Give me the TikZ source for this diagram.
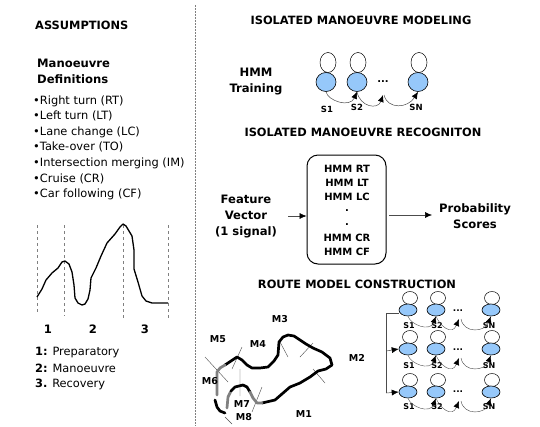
\documentclass[tikz,border=0pt]{standalone}
\usepackage{fontspec}
\setmainfont{DejaVu Sans}
\usetikzlibrary{arrows.meta,shapes.geometric}
\definecolor{stfill}{RGB}{150,200,250}
\tikzset{x=1pt,y=-1pt,
 head/.style={font=\bfseries\fontsize{11.4}{12}\selectfont,inner sep=0pt},
 lab/.style={font=\bfseries\fontsize{11.6}{16}\selectfont,inner sep=0pt,align=center},
 small/.style={font=\bfseries\fontsize{8.5}{9}\selectfont,inner sep=0pt},
 msmall/.style={font=\bfseries\fontsize{9.5}{9}\selectfont,inner sep=0pt},
 tiny/.style={font=\bfseries\fontsize{8}{8}\selectfont,inner sep=0pt},
 item/.style={font=\fontsize{11.4}{11}\selectfont,inner sep=0pt,anchor=west},
 hmm/.style={font=\bfseries\fontsize{10}{10}\selectfont,inner sep=0pt},
 state/.style={ellipse,draw=black,fill=stfill,line width=.6pt,inner sep=0pt},
 loopn/.style={ellipse,draw=black,line width=.5pt,inner sep=0pt,fill=white},
 arr/.style={-{Latex[length=7pt,width=6pt,black]},line width=.5pt,black!70},
 tick/.style={line width=.4pt,black!70},
 guide/.style={dashed,gray,line width=.6pt},
 road/.style={line width=2.7pt,line cap=round,line join=round},
 graypart/.style={road,gray}}
\begin{document}
\begin{tikzpicture}
\useasboundingbox (0,0) rectangle (540,426);
\fill[white] (0,0) rectangle (540,426);
\coordinate (sepA) at (195.5,5); \coordinate (sepB) at (195.5,426);
\draw[dash pattern=on 1.5pt off 1.5pt,gray,line width=.6pt] (sepA) -- (sepB);
\node[head,anchor=west] (assume) at (35,25) {ASSUMPTIONS};
\node[lab,align=left,anchor=west] (defs) at (37,71) {Manoeuvre\\Definitions};
\node[item] (i1) at (33,101) {•Right turn (RT)};
\node[item] (i2) at (33,116) {•Left turn (LT)};
\node[item] (i3) at (33,132) {•Lane change (LC)};
\node[item] (i4) at (33,147) {•Take-over (TO)};
\node[item] (i5) at (33,163) {•Intersection merging (IM)};
\node[item] (i6) at (33,179) {•Cruise (CR)};
\node[item] (i7) at (33,194) {•Car following (CF)};
% signal
\draw[guide] (37,225)--(37,314);
\draw[guide] (64,225)--(64,316);
\draw[guide] (123,225)--(123,318);
\draw[guide] (168,225)--(168,318);
\draw[line width=1.3pt,line join=round] (37,297)--(42,289)--(46,280)--(52,273)--(58,268)--(62,262)--(65,261)--(69,264)--(72,272)--(74,285)--(75,298)--(78,303)--(82,305)--(85,304)--(88,299)--(90,290)--(91,278)--(96,268)--(101,256)--(107,243)--(115,234)--(120,227)--(123,224)--(126,226)--(132,236)--(134,250)--(134,269)--(138,282)--(142,296)--(146,301)--(152,303)--(168,303);
\node[lab] (n1) at (48,329) {1};
\node[lab] (n2) at (93,329) {2};
\node[lab] (n3) at (145,329) {3};
\node[item] (l1) at (35,353) {\textbf{1:} Preparatory};
\node[item] (l2) at (35,368) {\textbf{2:} Manoeuvre};
\node[item] (l3) at (35,384) {\textbf{3.} Recovery};
% top right
\node[head] (t1) at (361,20) {ISOLATED MANOEUVRE MODELING};
\node[lab] (train) at (256,81.5) {HMM\\Training};
\foreach \n/\xl/\xs in {a/328/326,b/358/357,c/419/418}{
  \node[loopn,minimum width=16pt,minimum height=20pt] (\n l) at (\xl,62.5) {};
  \node[state,minimum width=20pt,minimum height=19pt] (\n s) at (\xs,82) {};
}
\node[small] (s1) at (327,109) {S1};
\node[small] (s2) at (357,107) {S2};
\node[small] (sn) at (416,107) {SN};
\node[font=\bfseries\fontsize{10}{9}\selectfont,inner sep=0pt] (dots) at (383,82) {...};
\draw[arr] (as.south) .. controls (328,101) and (350,108) .. (bs.south);
\draw[arr] (bs.south) .. controls (360,107) and (378,110) .. (383,95);
\draw[arr] (384,95) .. controls (388,110) and (408,108) .. (cs.south);
\node[head] (t2) at (363,132) {ISOLATED MANOEUVRE RECOGNITON};
\node[draw=black,line width=1pt,rounded corners=11pt,minimum width=79pt,minimum height=109pt,inner sep=0pt] (box) at (346.5,209.5) {};
\foreach \y/\t in {169/HMM RT,183/HMM LT,197/HMM LC,211/.,225/.,238/HMM CR,252/HMM CF}{
  \node[hmm] at (347,\y) {\t};
}
\node[lab] (fv) at (246,217) {Feature\\Vector\\(1 signal)};
\node[lab] (ps) at (475,216) {Probability\\Scores};
\coordinate (fvend) at (288,216);
\coordinate (boxout) at (389,215);
\coordinate (psin) at (432,215);
\draw[arr] (fvend) -- (box.west |- fvend);
\draw[arr] (boxout) -- (psin);
\node[head] (t3) at (357,284) {ROUTE MODEL CONSTRUCTION};
% route
\draw[tick] (313,343)--(300,357) (280,342)--(288,357) (313,369)--(325,383)
 (242,347)--(232,369) (205,357)--(228,382)
 (240,369)--(240,396) (262,387)--(252,412) (225,417)--(232,424);
\draw[road] (262,403)--(275,400)--(290,387)--(300,383)--(310,377)--(318,371)--(326,369)--(332,365)--(330,358)--(322,352)--(313,348)--(306,344)--(300,340)--(294,336)--(288,335)--(283,337)--(279,342)--(278,355)--(274,361)--(268,367)--(260,368)--(252,368)--(247,365)--(242,360)--(237,357)--(231,361)--(225,365);
\draw[graypart] (225,365)--(220,368)--(217,372)--(217,395);
\draw[road] (215,400)--(217,407)--(220,411)--(225,413);
\draw[graypart] (227,408)--(228,397)--(231,391);
\draw[road] (231,391)--(235,387)--(243,385)--(247,387)--(250,392);
\draw[graypart] (250,392)--(253,398)--(257,403)--(262,403);
\node[msmall] (m1) at (304,414) {M1};
\node[msmall] (m2) at (357,358) {M2};
\node[msmall] (m3) at (280,319) {M3};
\node[msmall] (m4) at (258,344) {M4};
\node[msmall] (m5) at (218,339) {M5};
\node[msmall] (m6) at (210,381) {M6};
\node[msmall] (m7) at (242,404) {M7};
\node[msmall] (m8) at (244,417) {M8};
% HMM rows
\foreach \r/\yl/\ys/\ya/\yd in {p/298/310/326/311,q/337/349/366/350,r/380/392/407/392}{
 \foreach \n/\xl/\xs in {a/410/408,b/438/436,c/492/491}{
  \node[loopn,minimum width=15pt,minimum height=13pt] (\r\n l) at (\xl,\yl) {};
  \node[state,minimum width=18pt,minimum height=12pt] (\r\n s) at (\xs,\ys) {};
 }
 \node[font=\bfseries\fontsize{9}{8}\selectfont,inner sep=0pt] (\r d) at (458,\yd) {...};
 \node[tiny] (\r s1) at (409,\ya) {S1};
 \node[tiny] (\r s2) at (437,\ya) {S2};
 \node[tiny] (\r sn) at (489,\ya) {SN};
 \draw[arr,line width=.4pt] (\r as.south) .. controls (411,\ys+15) and (430,\ys+22) .. (\r bs.south);
 \draw[arr,line width=.4pt] (\r bs.south) .. controls (440,\ys+16) and (452,\ys+26) .. (459,\ys+9);
 \draw[arr,line width=.4pt] (461,\ys+9) .. controls (464,\ys+24) and (485,\ys+22) .. (\r cs.south);
}
\coordinate (busTop) at (386,313);
\coordinate (busBot) at (386,393);
\coordinate (busMid) at (386,351);
\draw[line width=.6pt,black!70] (pas.west |- busTop) -- (busTop) -- (busBot);
\draw[arr] (busMid) -- (qas.west);
\draw[arr] (busBot) -- (ras.west);
\end{tikzpicture}
\end{document}
